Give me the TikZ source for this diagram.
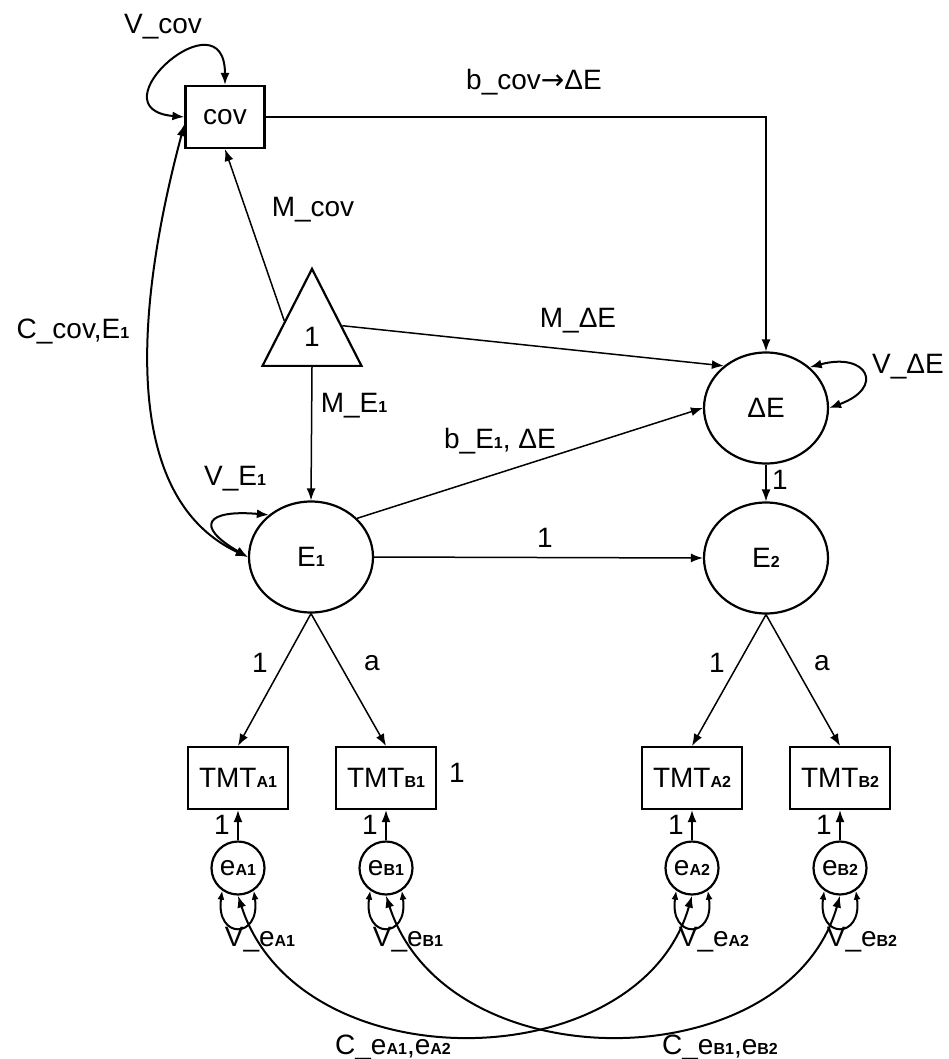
\documentclass[tikz,border=0pt]{standalone}
\usepackage{fontspec}
\setmainfont{Liberation Sans}
\newfontfamily\arrowfont{DejaVu Sans}
\usetikzlibrary{arrows.meta,shapes.geometric}
\newcommand\lsub[1]{{\fontsize{16}{16}\selectfont\bfseries #1}}
\tikzset{
  every node/.style={font=\fontsize{28}{32}\selectfont},
  obsbox/.style={draw, line width=2.2pt, minimum width=100pt, minimum height=62pt, inner sep=0pt},
  latent/.style={draw, ellipse, line width=2.2pt, minimum width=124pt, minimum height=111pt, inner sep=0pt},
  errc/.style={draw, circle, line width=2.2pt, minimum size=53pt, inner sep=0pt},
  reg/.style={-{Latex[length=12pt,width=9pt]}, line width=1.5pt},
  covar/.style={{Latex[length=12pt,width=9pt]}-{Latex[length=12pt,width=9pt]}, line width=2pt},
  selfvar/.style={{Latex[length=9pt,width=7pt]}-{Latex[length=9pt,width=7pt]}, line width=2pt},
}
\begin{document}
\begin{tikzpicture}[x=1pt,y=1pt]
    \useasboundingbox (0,0) rectangle (949,-1059);
    \node[draw, line width=2.2pt, minimum width=79pt, minimum height=62pt] (cov) at (225,-117) {cov};
    \node[draw, line width=2.2pt, isosceles triangle, shape border rotate=90,
    isosceles triangle stretches, minimum width=99pt, minimum height=97pt,
    inner sep=0pt, anchor=south] (one) at (312,-367) {1};
    \node[latent] (dE) at (766,-408) {ΔE};
    \node[latent] (E1) at (311,-557) {E\lsub{1}};
    \node[latent] (E2) at (766,-558) {E\lsub{2}};
    \foreach[count=\i] \ind/\xx in {A1/238,B1/386,A2/692,B2/840} {
        \node[obsbox] (t-\ind) at (\xx,-778) {TMT\lsub{\ind}};
        \node[errc] (e-\ind) at (\xx,-868) {e\lsub{\ind}};
        \draw[reg] (e-\ind) -- (t-\ind);
        \draw[selfvar] (e-\ind.235) to[out=262, in=278, looseness=4] (e-\ind.305);
        \node (one-\ind) at (\xx-16,-825) {1};
        \node (v-\ind) at (\xx+22,-940) {V\_e\lsub{\ind}};
    }
    \foreach \fac/\ind/\lab/\lx in {E1/A1/1/260,E1/B1/a/372,E2/A2/1/717,E2/B2/a/822} {
        \draw[reg] (\fac.south) -- (t-\ind.north);
        \node (ld-\ind) at (\lx,-663) {\lab};
    }
    \draw[reg] (one.150) -- (cov.south);
    \draw[reg] (one.20) -- (dE.135);
    \draw[reg] (one.south) -- (E1.north);
    \draw[reg] (cov.east) -| (dE.north);
    \draw[reg] (E1.40) -- (dE.west);
    \draw[reg] (E1.east) -- (E2.west);
    \draw[reg] (dE.south) -- (E2.north);
    \draw[covar] (cov.north) to[out=90, in=175, looseness=4.6] (cov.west);
    \draw[covar] (E1.135) to[out=175, in=150, looseness=3.4] (E1.west);
    \draw[covar] (dE.43) to[out=15, in=20, looseness=3.4] (dE.east);
    \draw[covar] (cov.190) to[out=255, in=155, looseness=0.9] (E1.west);
    \draw[covar] (e-A1.south) .. controls +(61,-189) and +(-52,-184) .. (e-A2.south);
    \draw[covar] (e-B1.south) .. controls +(61,-189) and +(-52,-184) .. (e-B2.south);
    % labels
    \node (l-vcov) at (163,-27) {V\_cov};
    \node (l-bcov) at (534,-82) {b\_cov{\arrowfont →}ΔE};
    \node (l-mcov) at (313,-210) {M\_cov};
    \node (l-ccov) at (73,-332) {C\_cov,E\lsub{1}};
    \node (l-mde) at (578,-321) {M\_ΔE};
    \node (l-vde) at (908,-367) {V\_ΔE};
    \node (l-me1) at (354,-406) {M\_E\lsub{1}};
    \node (l-be1) at (500,-441) {b\_E\lsub{1}, ΔE};
    \node (l-ve1) at (235,-479) {V\_E\lsub{1}};
    \node (l-de2) at (780,-480) {1};
    \node (l-e12) at (545,-538) {1};
    \node (l-tb1) at (457,-773) {1};
    \node (l-ca) at (393,-1047) {C\_e\lsub{A1},e\lsub{A2}};
    \node (l-cb) at (720,-1047) {C\_e\lsub{B1},e\lsub{B2}};
\end{tikzpicture}
\end{document}
